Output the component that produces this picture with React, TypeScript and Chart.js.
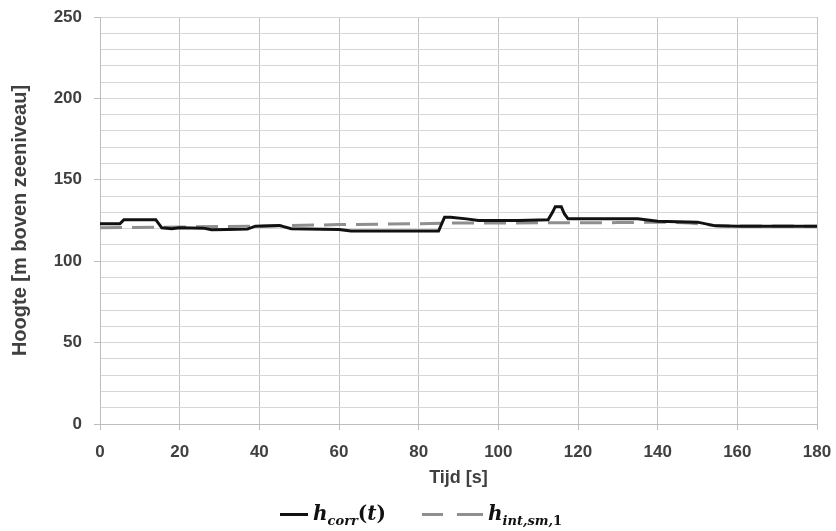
import React, { useEffect, useRef } from "react";
import { Chart, registerables } from "chart.js";

Chart.register(...registerables);

const tCorr = [0, 5, 6, 14, 15.5, 18, 20, 26, 28, 32, 37, 39, 45, 48, 60, 63, 85, 86.5, 88, 92, 95, 105, 112.5, 113.6, 114.3, 115.8, 116.6, 117.5, 125, 135, 140, 150, 154.5, 160, 180];
const hCorr = [123, 123, 125.5, 125.5, 120.5, 120, 120.5, 120.3, 119.3, 119.5, 119.7, 121.5, 122, 120, 119.5, 118.5, 118.5, 127, 127, 126, 125, 125, 125.5, 130, 133.5, 133.5, 129, 126, 126, 126, 124.5, 124, 121.7, 121.5, 121.5];

const tInt = [0, 20, 40, 60, 80, 90, 100, 130, 140, 148, 155, 180];
const hInt = [120.5, 121, 121.5, 122.5, 123, 123.5, 123.5, 123.7, 124, 123.5, 121.7, 121.5];

const xTicks = [0, 20, 40, 60, 80, 100, 120, 140, 160, 180];
const yMajor = [0, 50, 100, 150, 200, 250];

const TEXT = "#404040";
const FONT = "'Liberation Sans', Arial, sans-serif";

export default function App() {
  const ref = useRef<HTMLCanvasElement>(null);
  useEffect(() => {
    if (!ref.current) return;
    const chart = new Chart(ref.current, {
      type: "line",
      data: {
        datasets: [
          {
            label: "h_corr(t)",
            data: tCorr.map((t, i) => ({ x: t, y: hCorr[i] })),
            borderColor: "#111111",
            borderWidth: 3,
            pointRadius: 0,
            tension: 0,
            order: 1,
          },
          {
            label: "h_int,sm,1",
            data: tInt.map((t, i) => ({ x: t, y: hInt[i] })),
            borderColor: "#8f8f8f",
            borderWidth: 3,
            borderDash: [22, 10],
            pointRadius: 0,
            tension: 0,
            order: 2,
          },
        ],
      },
      options: {
        responsive: false,
        animation: false,
        devicePixelRatio: 1,
        layout: { padding: { left: 0, right: 19, top: 17, bottom: 42 } },
        plugins: { legend: { display: false }, tooltip: { enabled: false } },
        scales: {
          x: {
            type: "linear",
            min: 0,
            max: 180,
            afterBuildTicks: (s: any) => {
              s.ticks = xTicks.map((v) => ({ value: v }));
            },
            afterFit: (s: any) => {
              s.height = 65;
              s.paddingLeft = 0;
              s.paddingRight = 0;
            },
            ticks: {
              autoSkip: false,
              maxRotation: 0,
              padding: 12,
              color: TEXT,
              font: { family: FONT, size: 17, weight: "bold" },
            },
            grid: { color: "#c4c4c4", lineWidth: 1, tickLength: 6, tickColor: "#bdbdbd" },
            border: { color: "#bdbdbd" },
            title: {
              display: true,
              text: "Tijd [s]",
              color: TEXT,
              font: { family: FONT, size: 18, weight: "bold" },
              padding: { top: 0, bottom: 0 },
            },
          },
          y: {
            type: "linear",
            min: 0,
            max: 250,
            afterBuildTicks: (s: any) => {
              const arr: any[] = [];
              for (let v = 0; v <= 250; v += 10) arr.push({ value: v });
              s.ticks = arr;
            },
            afterFit: (s: any) => {
              s.width = 100;
              s.paddingTop = 0;
              s.paddingBottom = 0;
            },
            ticks: {
              autoSkip: false,
              padding: 12,
              color: TEXT,
              font: { family: FONT, size: 17, weight: "bold" },
              callback: (v: any) => (yMajor.includes(Number(v)) ? String(v) : ""),
            },
            grid: {
              color: "#d6d6d6",
              lineWidth: 1,
              tickLength: 6,
              tickColor: (c: any) =>
                c.tick && yMajor.includes(c.tick.value) ? "#bdbdbd" : "rgba(0,0,0,0)",
            },
            border: { color: "#bdbdbd" },
            title: {
              display: true,
              text: "Hoogte [m boven zeeniveau]",
              color: TEXT,
              font: { family: FONT, size: 20, weight: "bold" },
              padding: { top: 8, bottom: 4 },
            },
          },
        },
      },
    });
    return () => chart.destroy();
  }, []);

  const mathFont = "'DejaVu Serif', 'Liberation Serif', serif";
  return (
    <div style={{ position: "absolute", left: 0, top: 0, width: 836, height: 531, background: "#fff" }}>
      <canvas ref={ref} width={836} height={531} style={{ position: "absolute", left: 0, top: 0 }} />
      <div style={{ position: "absolute", left: 280, top: 513, width: 28, height: 3, background: "#111" }} />
      <div
        style={{
          position: "absolute",
          left: 313,
          top: 500,
          fontFamily: mathFont,
          fontWeight: "bold",
          fontSize: 20,
          color: "#111",
          whiteSpace: "nowrap",
          lineHeight: "26px",
        }}
      >
        <i>h</i>
        <sub style={{ fontSize: 13 }}><i>corr</i></sub>(<i>t</i>)
      </div>
      <div style={{ position: "absolute", left: 422, top: 513, width: 21, height: 3, background: "#8f8f8f" }} />
      <div style={{ position: "absolute", left: 457, top: 513, width: 26, height: 3, background: "#8f8f8f" }} />
      <div
        style={{
          position: "absolute",
          left: 488,
          top: 500,
          fontFamily: mathFont,
          fontWeight: "bold",
          fontSize: 20,
          color: "#111",
          whiteSpace: "nowrap",
          lineHeight: "26px",
        }}
      >
        <i>h</i>
        <sub style={{ fontSize: 13 }}><i>int,sm,</i>1</sub>
      </div>
    </div>
  );
}
